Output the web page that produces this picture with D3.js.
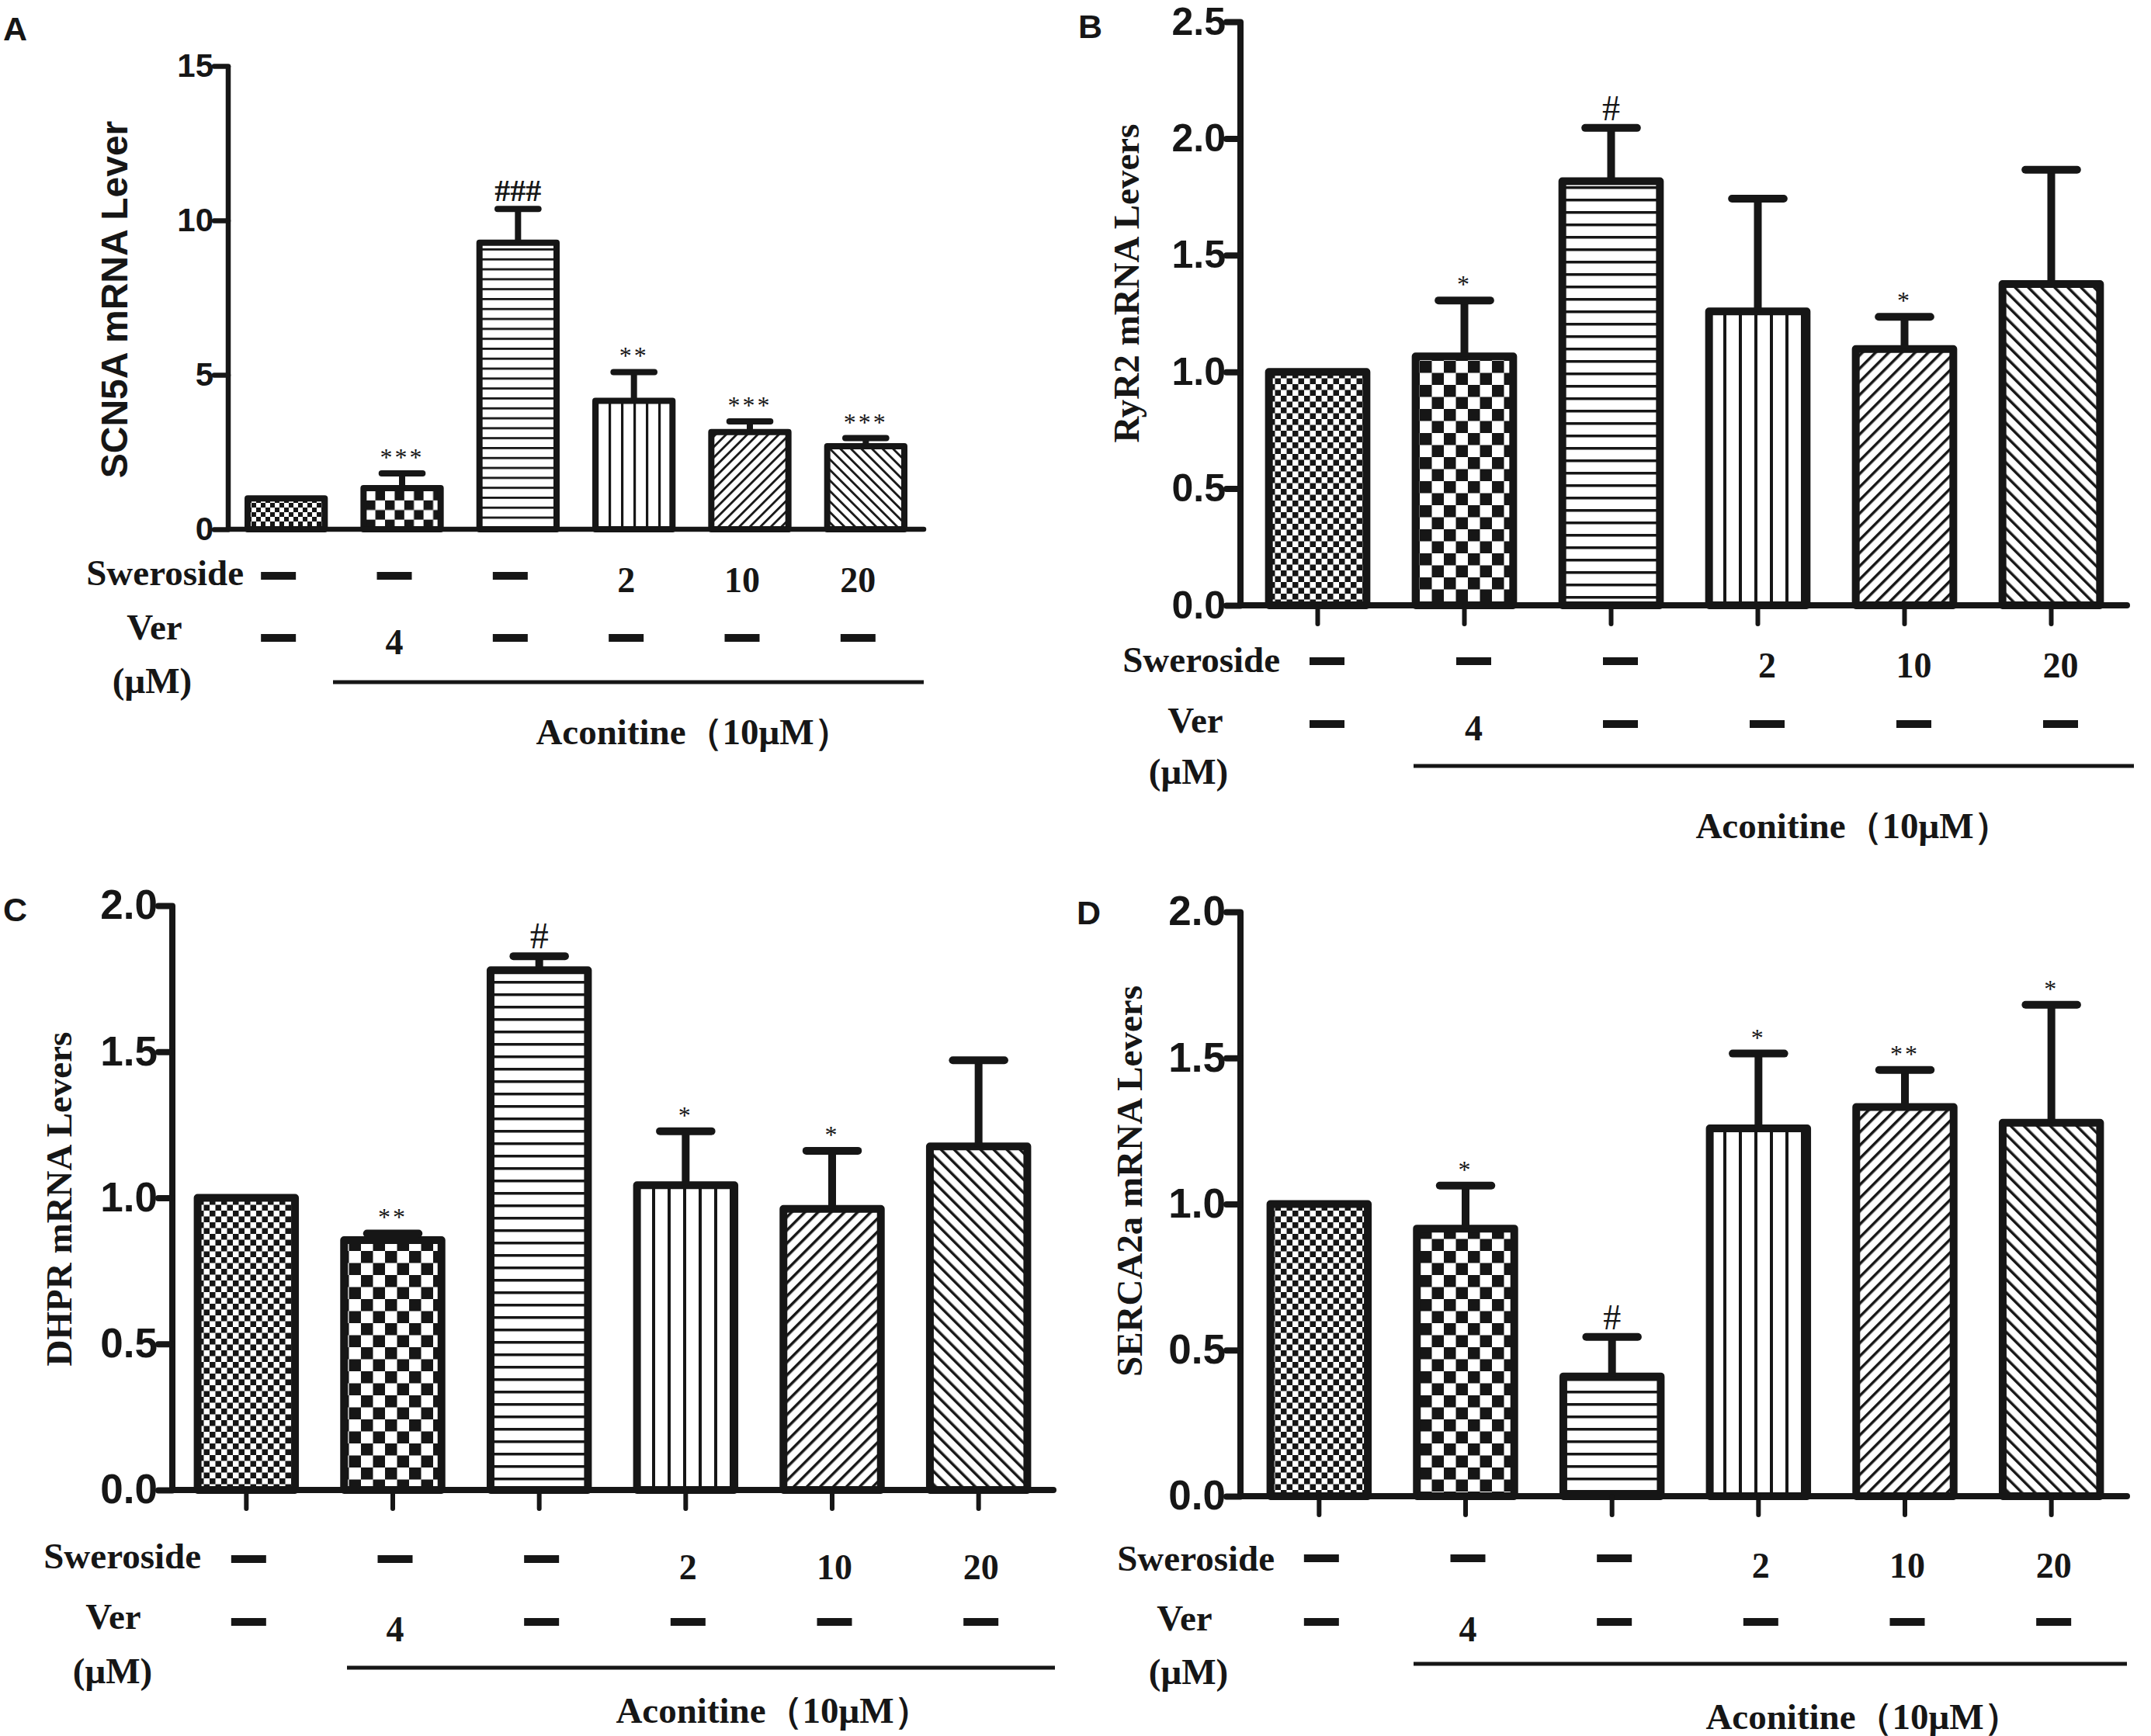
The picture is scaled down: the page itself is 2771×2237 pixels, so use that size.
<!DOCTYPE html>
<html>
<head>
<meta charset="utf-8">
<script src="https://cdn.jsdelivr.net/npm/d3@7"></script>
<style>
  body { margin: 0; background: #fff; }
  svg { display: block; }
</style>
</head>
<body>
<script>
var width = 2771;
var height = 2237;

// ---- data ----
var groups = ["Control", "Ver", "Aconitine", "Swe2", "Swe10", "Swe20"];
var swerosideRow = ["—", "—", "—", "2", "10", "20"];
var verRow = ["—", "4", "—", "—", "—", "—"];

var scn5aMean = [1.00, 1.33, 9.28, 4.16, 3.15, 2.69];
var scn5aErr  = [0, 0.48, 1.09, 0.93, 0.34, 0.26];
var scn5aSig  = ["", "***", "###", "**", "***", "***"];
var scn5aTicks = [0, 5, 10, 15];

var ryr2Mean = [1.00, 1.066, 1.817, 1.259, 1.098, 1.376];
var ryr2Err  = [0, 0.240, 0.228, 0.483, 0.138, 0.490];
var ryr2Sig  = ["", "*", "#", "", "*", ""];
var ryr2Ticks = [0, 0.5, 1.0, 1.5, 2.0, 2.5];

var dhprMean = [1.00, 0.855, 1.779, 1.043, 0.962, 1.176];
var dhprErr  = [0, 0.023, 0.048, 0.185, 0.199, 0.295];
var dhprSig  = ["", "**", "#", "*", "*", ""];
var dhprTicks = [0, 0.5, 1.0, 1.5, 2.0];

var sercaMean = [1.00, 0.916, 0.410, 1.259, 1.332, 1.278];
var sercaErr  = [0, 0.147, 0.135, 0.256, 0.127, 0.404];
var sercaSig  = ["", "*", "#", "*", "**", "*"];
var sercaTicks = [0, 0.5, 1.0, 1.5, 2.0];

var serif = "'Liberation Serif', 'Times New Roman', serif";
var sans = "'Liberation Sans', Arial, sans-serif";
var ink = "#161616";

var svg = d3.select("body").append("svg")
    .attr("width", width)
    .attr("height", height);

svg.append("rect").attr("width", width).attr("height", height).attr("fill", "#fff");

var defs = svg.append("defs");

//patterns, one set per panel so they can be scaled
function makePatterns(key, s) {
  var p;
  // fine checker
  p = defs.append("pattern").attr("id", key + "-p0")
      .attr("patternUnits", "userSpaceOnUse").attr("width", 15 * s).attr("height", 15 * s);
  p.append("rect").attr("width", 15 * s).attr("height", 15 * s).attr("fill", "#fff");
  p.append("rect").attr("width", 7.5 * s).attr("height", 7.5 * s).attr("fill", ink);
  p.append("rect").attr("x", 7.5 * s).attr("y", 7.5 * s).attr("width", 7.5 * s).attr("height", 7.5 * s).attr("fill", ink);
  // big checker
  p = defs.append("pattern").attr("id", key + "-p1")
      .attr("patternUnits", "userSpaceOnUse").attr("width", 31 * s).attr("height", 31 * s);
  p.append("rect").attr("width", 31 * s).attr("height", 31 * s).attr("fill", "#fff");
  p.append("rect").attr("width", 15.5 * s).attr("height", 15.5 * s).attr("fill", ink);
  p.append("rect").attr("x", 15.5 * s).attr("y", 15.5 * s).attr("width", 15.5 * s).attr("height", 15.5 * s).attr("fill", ink);
  // horizontal lines
  p = defs.append("pattern").attr("id", key + "-p2")
      .attr("patternUnits", "userSpaceOnUse").attr("width", 20).attr("height", 16 * s);
  p.append("rect").attr("width", 20).attr("height", 16 * s).attr("fill", "#fff");
  p.append("rect").attr("width", 20).attr("height", 3.5 * s).attr("fill", ink);
  // vertical lines
  p = defs.append("pattern").attr("id", key + "-p3")
      .attr("patternUnits", "userSpaceOnUse").attr("width", 20 * s).attr("height", 20);
  p.append("rect").attr("width", 20 * s).attr("height", 20).attr("fill", "#fff");
  p.append("rect").attr("width", 4 * s).attr("height", 20).attr("fill", ink);
  // diagonal "/" and "\"
  [["p4", 45], ["p5", -45]].forEach(function(d) {
    var q = defs.append("pattern").attr("id", key + "-" + d[0])
        .attr("patternUnits", "userSpaceOnUse").attr("width", 12 * s).attr("height", 20)
        .attr("patternTransform", "rotate(" + d[1] + ")");
    q.append("rect").attr("width", 12 * s).attr("height", 20).attr("fill", "#fff");
    q.append("rect").attr("width", 3.5 * s).attr("height", 20).attr("fill", ink);
  });
}

// ---- layout of the four panels (positions only) ----
var panels = [
  { key: "A", mean: scn5aMean, err: scn5aErr, sig: scn5aSig, ticks: scn5aTicks, max: 15,
    fmt: d3.format("d"), letter: [4, 52],
    axisX: 294, axisEnd: 1190, y0: 682, yTop: 85, band: [294, 1190],
    tickFont: 42, tickLen: 18, barStroke: 8, axisStroke: 6.5, barTicks: false, patScale: 0.8,
    yLabel: "SCN5A mRNA Lever", yFamily: sans, yFont: 48, yPos: [147, 386],
    swer: { x: 314, base: 754, dash: 742, num: 763 },
    ver: { x: 199, base: 824, dash: 822, num: 843 },
    um: { x: 196, base: 893 }, line: { y: 879, x1: 429, x2: 1190 },
    acon: { x: 893, base: 959 }, shift: -10, hashFont: 40, hashWeight: "bold" },
  { key: "B", mean: ryr2Mean, err: ryr2Err, sig: ryr2Sig, ticks: ryr2Ticks, max: 2.5,
    fmt: d3.format(".1f"), letter: [1389, 49],
    axisX: 1598, axisEnd: 2740, y0: 780, yTop: 28, band: [1603, 2737],
    tickFont: 50, tickLen: 18, barStroke: 10, axisStroke: 8, barTicks: true, patScale: 1,
    yLabel: "RyR2 mRNA Levers", yFamily: serif, yFont: 47, yPos: [1451, 365],
    swer: { x: 1649, base: 866, dash: 852, num: 873 },
    ver: { x: 1540, base: 944, dash: 933, num: 954 },
    um: { x: 1531, base: 1010 }, line: { y: 987, x1: 1821, x2: 2749 },
    acon: { x: 2387, base: 1080 }, shift: 12, hashFont: 46, hashWeight: "normal" },
  { key: "C", mean: dhprMean, err: dhprErr, sig: dhprSig, ticks: dhprTicks, max: 2,
    fmt: d3.format(".1f"), letter: [4, 1187],
    axisX: 222, axisEnd: 1357, y0: 1920, yTop: 1167, band: [223, 1355],
    tickFont: 53, tickLen: 18, barStroke: 10, axisStroke: 8, barTicks: true, patScale: 1,
    yLabel: "DHPR mRNA Levers", yFamily: serif, yFont: 47, yPos: [76, 1545],
    swer: { x: 259, base: 2021, dash: 2009, num: 2035 },
    ver: { x: 146, base: 2099, dash: 2090, num: 2115 },
    um: { x: 145, base: 2169 }, line: { y: 2149, x1: 447, x2: 1359 },
    acon: { x: 996, base: 2220 }, shift: 3, hashFont: 48, hashWeight: "normal" },
  { key: "D", mean: sercaMean, err: sercaErr, sig: sercaSig, ticks: sercaTicks, max: 2,
    fmt: d3.format(".1f"), letter: [1387, 1191],
    axisX: 1598, axisEnd: 2740, y0: 1928, yTop: 1175, band: [1605, 2737],
    tickFont: 53, tickLen: 18, barStroke: 10, axisStroke: 8, barTicks: true, patScale: 1,
    yLabel: "SERCA2a mRNA Levers", yFamily: serif, yFont: 47, yPos: [1455, 1522],
    swer: { x: 1642, base: 2024, dash: 2008, num: 2033 },
    ver: { x: 1526, base: 2101, dash: 2090, num: 2115 },
    um: { x: 1531, base: 2170 }, line: { y: 2144, x1: 1821, x2: 2740 },
    acon: { x: 2400, base: 2228 }, shift: 3, hashFont: 46, hashWeight: "normal" }
];

panels.forEach(function(P) {
  makePatterns(P.key, P.patScale);
  var g = svg.append("g").attr("class", "panel-" + P.key);

  var x = d3.scaleBand().domain(groups).range(P.band)
      .paddingInner(0.335).paddingOuter(0.1675);
  var y = d3.scaleLinear().domain([0, P.max]).range([P.y0, P.yTop]);
  var bw = x.bandwidth();

  // panel letter
  g.append("text").attr("x", P.letter[0]).attr("y", P.letter[1])
      .attr("font-family", sans).attr("font-weight", "bold").attr("font-size", 43)
      .attr("fill", ink).text(P.key);

  //bars
  g.selectAll(".bar").data(P.mean).enter().append("rect")
      .attr("class", "bar")
      .attr("x", function(d, i) { return x(groups[i]); })
      .attr("width", bw)
      .attr("y", function(d) { return y(d); })
      .attr("height", function(d) { return y(0) - y(d); })
      .attr("fill", function(d, i) { return "url(#" + P.key + "-p" + i + ")"; })
      .attr("stroke", ink)
      .attr("stroke-width", P.barStroke)
      .attr("stroke-linejoin", "round");

  // error bars (upper only)
  var eb = g.selectAll(".err").data(P.mean).enter().append("g").attr("class", "err")
      .filter(function(d, i) { return P.err[i] > 0; });
  eb.append("line")
      .attr("x1", function(d, i) { return x(groups[P.mean.indexOf(d)]) + bw / 2; })
      .attr("x2", function(d, i) { return x(groups[P.mean.indexOf(d)]) + bw / 2; })
      .attr("y1", function(d) { return y(d); })
      .attr("y2", function(d) { return y(d + P.err[P.mean.indexOf(d)]); })
      .attr("stroke", ink).attr("stroke-width", P.barStroke);
  eb.append("line")
      .attr("x1", function(d) { return x(groups[P.mean.indexOf(d)]) + bw / 2 - bw * 0.265; })
      .attr("x2", function(d) { return x(groups[P.mean.indexOf(d)]) + bw / 2 + bw * 0.265; })
      .attr("y1", function(d) { return y(d + P.err[P.mean.indexOf(d)]); })
      .attr("y2", function(d) { return y(d + P.err[P.mean.indexOf(d)]); })
      .attr("stroke", ink).attr("stroke-width", P.barStroke).attr("stroke-linecap", "round");

  // significance marks
  g.selectAll(".sig").data(P.sig).enter().append("text")
      .attr("class", "sig")
      .attr("x", function(d, i) { return x(groups[i]) + bw / 2; })
      .attr("y", function(d, i) { return y(P.mean[i] + P.err[i]) - 10; })
      .attr("text-anchor", "middle")
      .attr("font-family", serif)
      .attr("font-size", function(d) { return d.indexOf("#") >= 0 ? P.hashFont : 32; })
      .attr("font-weight", function(d) { return d.indexOf("#") >= 0 ? P.hashWeight : "normal"; })
      .attr("letter-spacing", function(d) { return d.indexOf("*") >= 0 ? 3 : 0; })
      .attr("fill", ink)
      .text(function(d) { return d; });

  // y axis
  var yAxis = g.append("g")
      .attr("transform", "translate(" + P.axisX + ",0)")
      .call(d3.axisLeft(y).tickValues(P.ticks).tickFormat(P.fmt)
            .tickSize(P.tickLen).tickSizeOuter(0).tickPadding(1));
  yAxis.select(".domain").attr("stroke", ink).attr("stroke-width", P.axisStroke)
      .attr("d", "M0," + P.y0 + "V" + P.yTop);
  yAxis.selectAll(".tick line").attr("stroke", ink).attr("stroke-width", P.axisStroke)
      .attr("stroke-linecap", "round");
  yAxis.selectAll(".tick text")
      .attr("font-family", sans).attr("font-weight", "bold")
      .attr("font-size", P.tickFont).attr("fill", ink);

  // x axis line
  g.append("line")
      .attr("x1", P.axisX).attr("x2", P.axisEnd)
      .attr("y1", P.y0).attr("y2", P.y0)
      .attr("stroke", ink).attr("stroke-width", P.axisStroke).attr("stroke-linecap", "round");

  if (P.barTicks) {
    var xAxis = g.append("g")
        .attr("transform", "translate(0," + P.y0 + ")")
        .call(d3.axisBottom(x).tickSize(24).tickSizeOuter(0).tickFormat(""));
    xAxis.select(".domain").remove();
    xAxis.selectAll(".tick line").attr("stroke", ink).attr("stroke-width", 6)
        .attr("stroke-linecap", "round");
  }

  // y axis title
  g.append("text")
      .attr("transform", "translate(" + P.yPos[0] + "," + P.yPos[1] + ") rotate(-90)")
      .attr("text-anchor", "middle")
      .attr("dominant-baseline", "central")
      .attr("font-family", P.yFamily).attr("font-weight", "bold")
      .attr("font-size", P.yFont).attr("fill", ink)
      .text(P.yLabel);

  // treatment table under the axis
  function rowLabels(values, R) {
    values.forEach(function(v, i) {
      var cx = x(groups[i]) + bw / 2 + P.shift;
      if (v === "—") {
        g.append("rect").attr("x", cx - 22.5).attr("y", R.dash - 5)
            .attr("width", 45).attr("height", 10).attr("fill", ink);
      } else {
        g.append("text").attr("x", cx).attr("y", R.num)
            .attr("text-anchor", "middle")
            .attr("font-family", serif).attr("font-weight", "bold")
            .attr("font-size", 46).attr("fill", ink).text(v);
      }
    });
  }
  rowLabels(swerosideRow, P.swer);
  rowLabels(verRow, P.ver);

  var bold = function(sel) {
    return sel.attr("font-family", serif).attr("font-weight", "bold")
        .attr("font-size", 47).attr("fill", ink);
  };
  bold(g.append("text").attr("x", P.swer.x).attr("y", P.swer.base)
      .attr("text-anchor", "end").text("Sweroside"));
  bold(g.append("text").attr("x", P.ver.x).attr("y", P.ver.base)
      .attr("text-anchor", "middle").text("Ver"));
  bold(g.append("text").attr("x", P.um.x).attr("y", P.um.base)
      .attr("text-anchor", "middle").text("(μM)"));

  g.append("line")
      .attr("x1", P.line.x1).attr("x2", P.line.x2)
      .attr("y1", P.line.y).attr("y2", P.line.y)
      .attr("stroke", ink).attr("stroke-width", 5);

  bold(g.append("text").attr("x", P.acon.x).attr("y", P.acon.base)
      .attr("text-anchor", "middle").attr("font-size", 46).text("Aconitine（10μM）"));
});
</script>
</body>
</html>
